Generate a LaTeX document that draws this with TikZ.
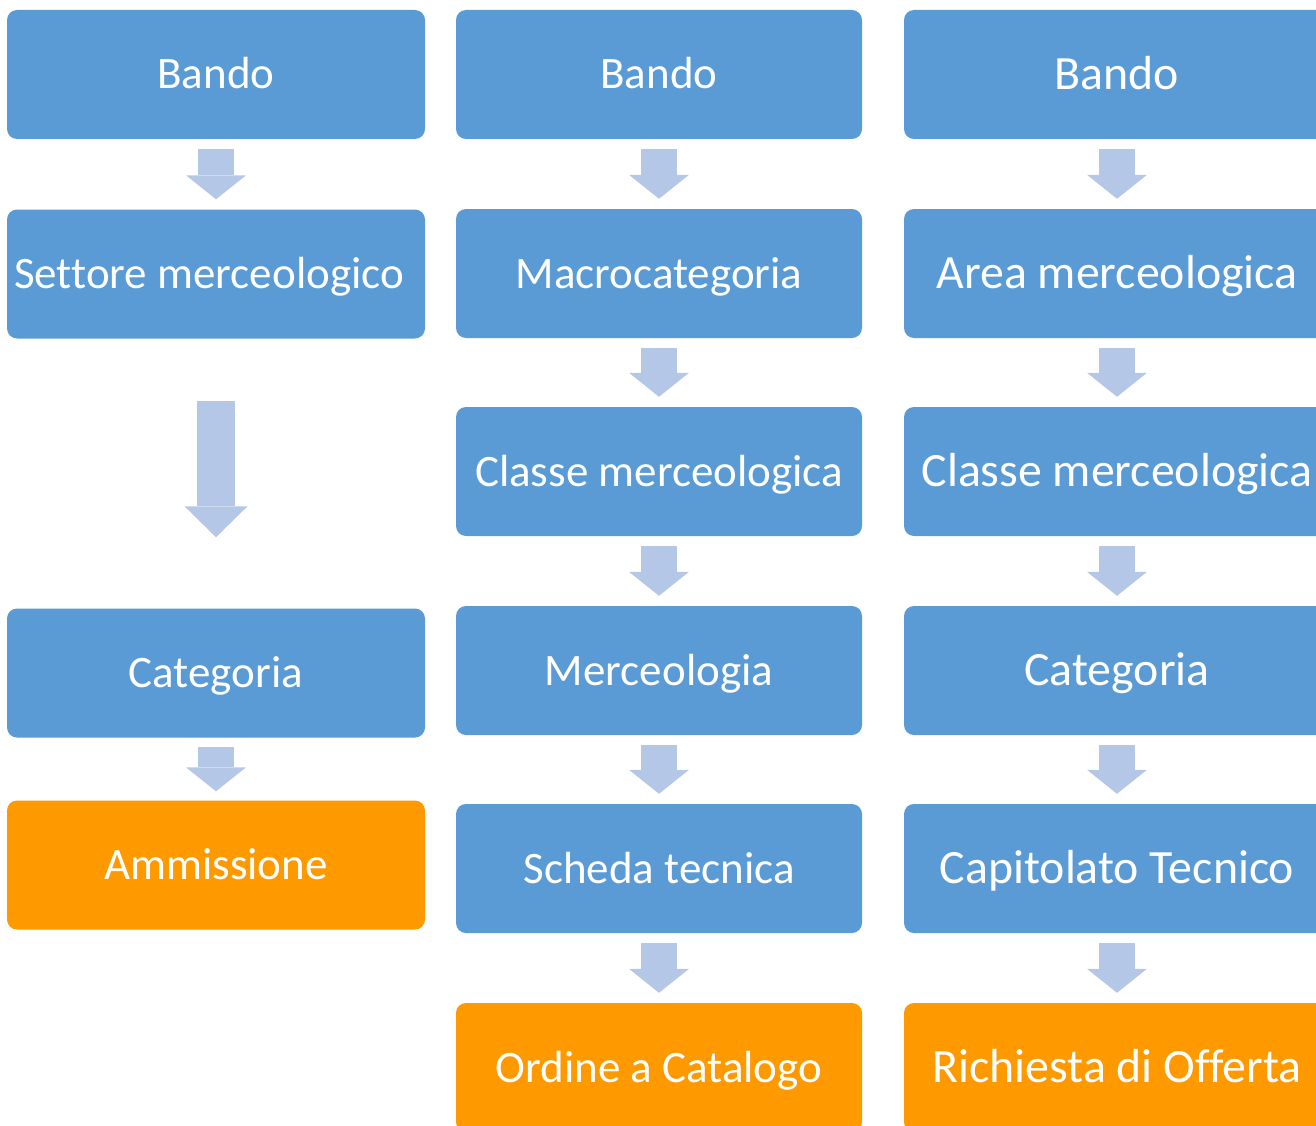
\documentclass[tikz,border=0pt]{standalone}
\usepackage{fontspec}
\setmainfont[Ligatures=NoCommon,RawFeature={-liga;-calt;-clig;-dlig}]{Carlito}
\usetikzlibrary{arrows.meta}
\definecolor{boxblue}{RGB}{91,155,213}
\definecolor{arrblue}{RGB}{180,199,231}
\definecolor{boxorange}{RGB}{255,153,0}
\begin{document}
\begin{tikzpicture}[x=1pt,y=-1pt,
  box/.style={fill=boxblue, rounded corners=10pt, text=white,
    font=\fontsize{45}{54}\selectfont, text height=29pt, text depth=0pt,
    minimum height=129pt, inner sep=0pt, anchor=center},
  endbox/.style={fill=boxorange},
  colA/.style={box, minimum width=418pt},
  colB/.style={box, minimum width=406pt},
  colC/.style={box, minimum width=426pt, font=\fontsize{47.8}{56}\selectfont,
    text height=30.8pt},
  flow/.style={draw=arrblue, line width=36pt,
    -{Triangle[length=24pt,width=60pt,line width=0pt]}},
  longflow/.style={draw=arrblue, line width=38pt,
    -{Triangle[length=31pt,width=63pt,line width=0pt]}}]
\useasboundingbox (0,0) rectangle (1316,1126);
\clip (0,0) rectangle (1316,1126);
% column 1
\node[colA] (a1) at (216,74.5) {Bando};
\node[colA] (a2) at (216,274) {Settore merceologico\kern14pt};
\node[colA] (a3) at (216,673) {Categoria};
\node[colA,endbox] (a4) at (216,865) {Ammissione};
% column 2
\node[colB] (b1) at (659,74.5) {Bando};
\node[colB] (b2) at (659,273.5) {Macrocategoria};
\node[colB] (b3) at (659,471.5) {Classe merceologica};
\node[colB] (b4) at (659,670.5) {Merceologia};
\node[colB] (b5) at (659,868.5) {Scheda tecnica};
\node[colB,endbox] (b6) at (659,1067.5) {Ordine a Catalogo};
% column 3
\node[colC] (c1) at (1117,74.5) {Bando};
\node[colC] (c2) at (1117,273.5) {Area merceologica};
\node[colC] (c3) at (1117,471.5) {Classe merceologica};
\node[colC] (c4) at (1117,670.5) {Categoria};
\node[colC] (c5) at (1117,868.5) {Capitolato Tecnico};
\node[colC,endbox] (c6) at (1117,1067.5) {Richiesta di Offerta};
% arrows
\draw[flow] ([yshift=-10pt]a1.south) -- ([yshift=10pt]a2.north);
\draw[longflow] ([yshift=-62pt]a2.south) -- ([yshift=71pt]a3.north);
\draw[flow] ([yshift=-9pt]a3.south) -- ([yshift=9pt]a4.north);
\foreach \p/\q in {b1/b2,b2/b3,b3/b4,b4/b5,b5/b6,c1/c2,c2/c3,c3/c4,c4/c5,c5/c6}{
  \draw[flow] ([yshift=-10pt]\p.south) -- ([yshift=10pt]\q.north);
}
\end{tikzpicture}
\end{document}
